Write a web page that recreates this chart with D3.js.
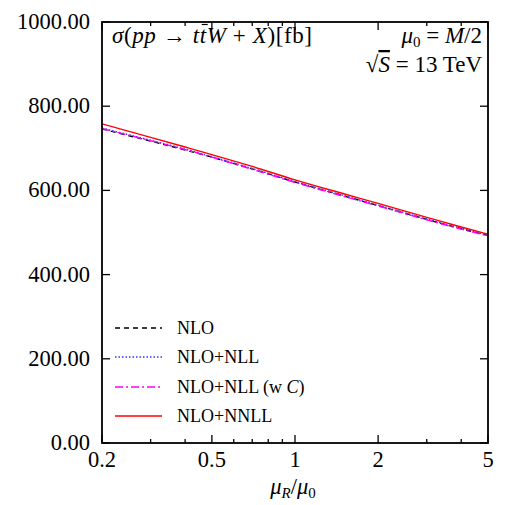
<!DOCTYPE html>
<html><head><meta charset="utf-8">
<script src="https://cdn.jsdelivr.net/npm/d3@7"></script>
<style>body{margin:0;background:#fff}svg{display:block}text{font-family:"Liberation Serif","Times New Roman",serif;fill:#000}</style>
</head><body><svg id="c" width="519" height="505"></svg>
<script>
const mu = [0.2, 0.3, 0.4, 0.5, 0.7, 1, 1.5, 2, 3, 4, 5];
const nlo = [746, 717, 696, 679, 651, 620, 587, 564, 531, 509, 493];
const nloNll = [748, 719, 698, 680, 652, 621, 588, 565, 532, 510, 494];
const nloNllC = [747, 718, 697, 679, 650, 619, 586, 563, 530, 508, 492];
const nloNnll = [758, 726, 703, 685, 657, 625, 592, 569, 536, 513, 496];
const xMajor = [0.2, 0.5, 1, 2, 5];
const xMinor = [0.3, 0.4, 0.6, 0.7, 0.8, 0.9, 3, 4];
const yTicks = [0, 200, 400, 600, 800, 1000];
const seriesNames = ["NLO", "NLO+NLL", "NLO+NLL (w C)", "NLO+NNLL"];

const L = 102, R = 488, T = 22, B = 443;
const svg = d3.select("#c");
const x = d3.scaleLog().domain([0.2, 5]).range([L, R]);
const y = d3.scaleLinear().domain([0, 1000]).range([B, T]);

const series = [
  {name: seriesNames[0], v: nlo, color: "#000", dash: "5,4"},
  {name: seriesNames[1], v: nloNll, color: "#3333ff", dash: "1.5,2"},
  {name: seriesNames[2], v: nloNllC, color: "#ff00ff", dash: "8,3,2,3"},
  {name: seriesNames[3], v: nloNnll, color: "#ff0000", dash: null}
];
const line = d3.line().x(d => x(d[0])).y(d => y(d[1])).curve(d3.curveMonotoneX);
svg.append("clipPath").attr("id","cp").append("rect").attr("x",L).attr("y",T).attr("width",R-L).attr("height",B-T);
series.forEach(s => {
  svg.append("path").attr("clip-path","url(#cp)")
    .attr("d", line(mu.map((m,i)=>[m, s.v[i]])))
    .attr("fill","none").attr("stroke", s.color).attr("stroke-width", 1.4)
    .attr("stroke-dasharray", s.dash);
});

const tk = svg.append("g").attr("stroke","#000").attr("stroke-width",1.3);
xMajor.forEach(v => {
  tk.append("line").attr("x1",x(v)).attr("x2",x(v)).attr("y1",B).attr("y2",B-8);
  tk.append("line").attr("x1",x(v)).attr("x2",x(v)).attr("y1",T).attr("y2",T+8);
});
xMinor.forEach(v => {
  tk.append("line").attr("x1",x(v)).attr("x2",x(v)).attr("y1",B).attr("y2",B-4);
  tk.append("line").attr("x1",x(v)).attr("x2",x(v)).attr("y1",T).attr("y2",T+4);
});
yTicks.forEach(v => {
  tk.append("line").attr("x1",L).attr("x2",L+8).attr("y1",y(v)).attr("y2",y(v));
  tk.append("line").attr("x1",R).attr("x2",R-8).attr("y1",y(v)).attr("y2",y(v));
});
svg.append("rect").attr("x",L).attr("y",T).attr("width",R-L).attr("height",B-T)
  .attr("fill","none").attr("stroke","#000").attr("stroke-width",1.8);

svg.append("g").selectAll("text").data(yTicks).join("text")
  .attr("x", 90).attr("y", d => y(d) + 7).attr("text-anchor","end")
  .attr("font-size", 22.5).text(d => d3.format(".2f")(d));
svg.append("g").selectAll("text").data(xMajor).join("text")
  .attr("x", d => x(d)).attr("y", 467).attr("text-anchor","middle")
  .attr("font-size", 22.5).text(d => d);

const xl = svg.append("text").attr("x", 293).attr("y", 494).attr("text-anchor","middle").attr("font-size",22.5);
xl.append("tspan").attr("font-style","italic").text("μ");
xl.append("tspan").attr("font-style","italic").attr("font-size",15).attr("dy",4).text("R");
xl.append("tspan").attr("dy",-4).text("/");
xl.append("tspan").attr("font-style","italic").text("μ");
xl.append("tspan").attr("font-size",15).attr("dy",4).text("0");

const t1 = svg.append("text").attr("x",112).attr("y",43).attr("font-size",23).attr("letter-spacing",0.6);
t1.append("tspan").attr("font-style","italic").text("σ");
t1.append("tspan").text("(");
t1.append("tspan").attr("font-style","italic").text("pp");
t1.append("tspan").text(" → ");
t1.append("tspan").attr("font-style","italic").text("t");
const tbar = t1.append("tspan").attr("font-style","italic").text("t");
t1.append("tspan").attr("font-style","italic").text("W");
t1.append("tspan").text(" + ");
t1.append("tspan").attr("font-style","italic").text("X");
t1.append("tspan").text(")[fb]");
const bb = tbar.node().getBBox();
svg.append("line").attr("x1", bb.x + 2).attr("x2", bb.x + bb.width + 1)
  .attr("y1", 24.5).attr("y2", 24.5).attr("stroke","#000").attr("stroke-width",1.2);

const t2 = svg.append("text").attr("x",482).attr("y",43).attr("font-size",23).attr("text-anchor","end");
t2.append("tspan").attr("font-style","italic").text("μ");
t2.append("tspan").attr("font-size",15).attr("dy",4).text("0");
t2.append("tspan").attr("dy",-4).text(" = ");
t2.append("tspan").attr("font-style","italic").text("M");
t2.append("tspan").text("/2");

const t3 = svg.append("text").attr("x",482).attr("y",72).attr("font-size",23).attr("text-anchor","end");
t3.append("tspan").text("√");
t3.append("tspan").attr("font-style","italic").attr("text-decoration","overline").text("S");
t3.append("tspan").text(" = 13 TeV");

const legY = [328, 357, 387, 416];
series.forEach((s,i) => {
  svg.append("line").attr("x1",115).attr("x2",162).attr("y1",legY[i]).attr("y2",legY[i])
    .attr("stroke",s.color).attr("stroke-width",1.4).attr("stroke-dasharray",s.dash);
  const t = svg.append("text").attr("x",177).attr("y",legY[i]+6).attr("font-size",18);
  if (i === 2) {
    t.append("tspan").text("NLO+NLL (w ");
    t.append("tspan").attr("font-style","italic").text("C");
    t.append("tspan").text(")");
  } else t.text(s.name);
});
</script></body></html>
